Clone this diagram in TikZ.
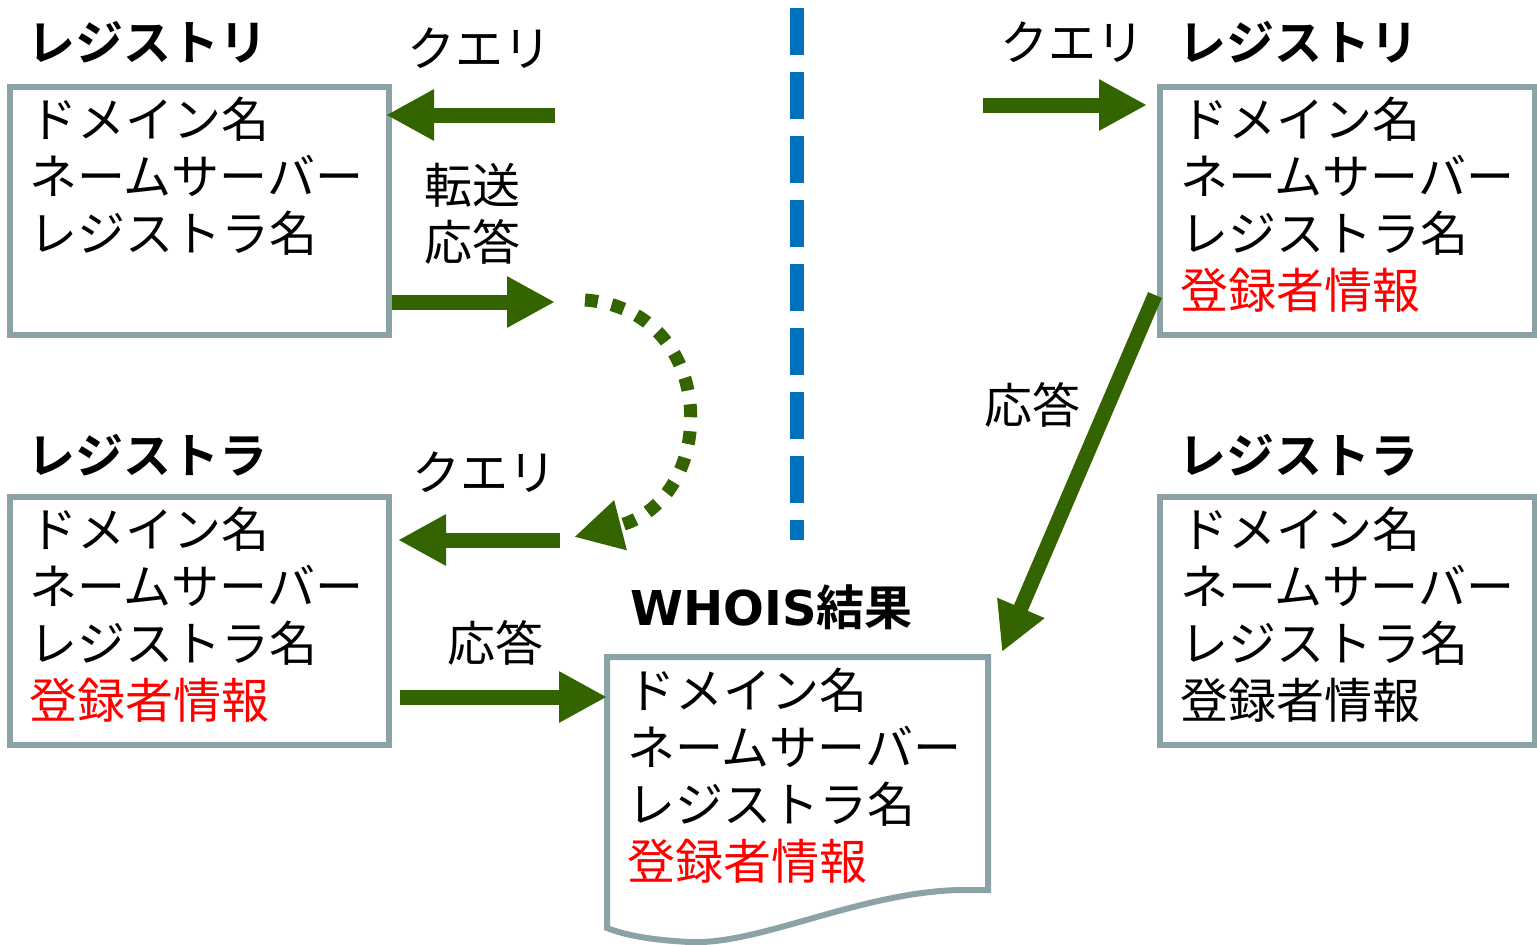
\documentclass[tikz,border=0pt]{standalone}
\usepackage{fontspec}
\setmainfont{Noto Sans CJK JP}[BoldFont={Noto Sans CJK JP Bold}]
\newfontfamily\latinfont{DejaVu Sans}
\usetikzlibrary{arrows.meta,positioning}

\definecolor{framegray}{RGB}{139,163,166}
\definecolor{arrowgreen}{RGB}{51,100,0}
\definecolor{lineblue}{RGB}{0,112,192}
\definecolor{infored}{RGB}{255,0,0}

\tikzset{
  frame/.style={draw=framegray, line width=3pt, minimum width=189.5pt, minimum height=124pt, inner sep=0pt},
  lines/.style={align=left, anchor=north west, inner sep=0pt, font=\fontsize{24}{28.5}\selectfont},
  title/.style={anchor=west, inner sep=0pt, font=\fontsize{24}{28.5}\selectfont\bfseries},
  note/.style={inner sep=0pt, font=\fontsize{24}{28.5}\selectfont},
  flow/.style={draw=arrowgreen, line width=7.5pt, -{Triangle[length=24pt,width=24pt]}},
}

\begin{document}
\begin{tikzpicture}[x=0.5pt, y=-0.5pt]
    \useasboundingbox (0,0) rectangle (1537,944);

    % dividing line
    \draw[lineblue, line width=7pt, dash pattern=on 23.5pt off 8.5pt] (797,8) -- (797,540);

    % left side
    \node[title] (lregtitle) at (27,42) {レジストリ};
    \node[frame] (lreg) at (199.5,210.5) {};
    \node[lines] (lregtxt) at (29,97) {ドメイン名\\ネームサーバー\\レジストラ名};

    \node[title] (lrartitle) at (27,455) {レジストラ};
    \node[frame] (lrar) at (199.5,620.5) {};
    \node[lines] (lrartxt) at (29,507) {ドメイン名\\ネームサーバー\\レジストラ名\\\textcolor{infored}{登録者情報}};

    % right side
    \node[title] (rregtitle) at (1178,42) {レジストリ};
    \node[frame, minimum width=187.5pt] (rreg) at (1347.5,210.5) {};
    \node[lines] (rregtxt) at (1180,97) {ドメイン名\\ネームサーバー\\レジストラ名\\\textcolor{infored}{登録者情報}};

    \node[title] (rrartitle) at (1178,455) {レジストラ};
    \node[frame, minimum width=187.5pt] (rrar) at (1347.5,620.5) {};
    \node[lines] (rrartxt) at (1180,507) {ドメイン名\\ネームサーバー\\レジストラ名\\登録者情報};

    % whois result
    \node[title] (whoistitle) at (630,607) {{\latinfont\bfseries WHOIS}結果};
    \coordinate (wnw) at (607,657);
    \coordinate (wne) at (988,657);
    \draw[framegray, line width=3pt] (wnw) -- (wne) -- (988,890) -- (960,890)
      .. controls (860,892) and (760,945) .. (690,942)
      .. controls (650,940) and (625,935) .. (607,928) -- cycle;
    \node[lines] (whoistxt) at (627,668) {ドメイン名\\ネームサーバー\\レジストラ名\\\textcolor{infored}{登録者情報}};

    % flows on the left
    \coordinate (lq) at (555,115);
    \draw[flow] (lq) -- ([xshift=-3pt]lq -| lreg.east);
    \node[note] (lqlabel) at (479,48) {クエリ};
    \node[note] (lfwd) at (472,185) {転送};
    \node[note] (lresp) at (472,242) {応答};
    \coordinate (lf) at (555,302);
    \draw[flow] (lreg.east |- lf) -- (lf);
    \coordinate (arcstart) at (585,300);
    \coordinate (arcend) at (574,537);
    \draw[draw=arrowgreen, line width=6.5pt, dash pattern=on 6.5pt off 7pt, -{Triangle[length=24pt,width=24pt]}]
      (arcstart) .. controls (720,310) and (720,500) .. (arcend);
    \coordinate (lq2) at (560,540);
    \draw[flow] (lq2) -- ([xshift=3pt]lq2 -| lrar.east);
    \node[note] (lq2label) at (484,472) {クエリ};
    \node[note] (lresp2) at (495,643) {応答};
    \coordinate (la) at (400,697);
    \draw[flow] (la) -- (la -| wnw);

    % flows on the right
    \coordinate (rq) at (983,105);
    \draw[flow] (rq) -- ([xshift=-5pt]rq -| rreg.west);
    \node[note] (rqlabel) at (1072,42) {クエリ};
    \coordinate (rs) at (1155,295);
    \coordinate (rt) at (1002,652);
    \draw[flow] (rs) -- (rt);
    \node[note] (rresp) at (1032,405) {応答};
\end{tikzpicture}
\end{document}
